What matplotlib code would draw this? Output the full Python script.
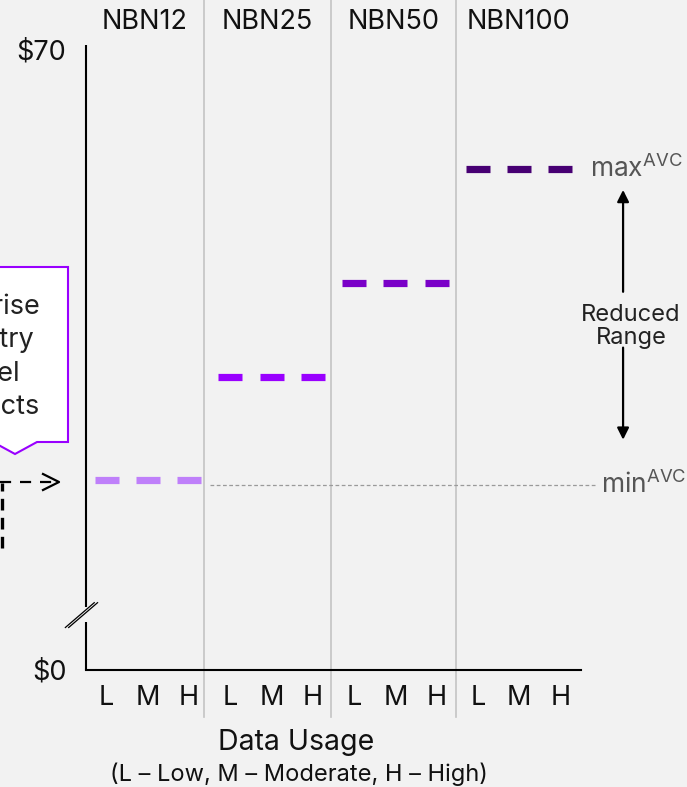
import matplotlib
matplotlib.use("Agg")
import matplotlib.pyplot as plt
from matplotlib.lines import Line2D
from matplotlib.patches import Polygon
import matplotlib.transforms as mtransforms

plt.rcParams['font.family'] = ['Inter', 'DejaVu Sans']
plt.rcParams['mathtext.fontset'] = 'custom'
plt.rcParams['mathtext.rm'] = 'Inter'

# Average variable cost per plan ($/month), flat across usage levels
plans = ['NBN12', 'NBN25', 'NBN50', 'NBN100']
usage = ['L', 'M', 'H']
avc = [21.4, 33.1, 43.7, 56.6]
min_avc = 20.9
max_avc = 56.6
plan_colors = ['#bf80fa', '#9900ff', '#7a00c8', '#470073']
# where each plan column starts/ends on the x axis
col_edges = [0.0, 2.86, 5.94, 8.97, 12.0]

BG = '#f2f2f2'
W, H = 687, 787
FS = 19.5

fig = plt.figure(figsize=(W / 100, H / 100), dpi=100, facecolor=BG)
ax = fig.add_axes([86 / W, (H - 670) / H, 495 / W, 620 / H])
ax.set_facecolor(BG)
ax.patch.set_alpha(0)
ax.set_xlim(0, 12)
ax.set_ylim(0, 70)


def px(x, y):
    """figure pixel (top-left origin) -> figure fraction"""
    return x / W, 1 - y / H


# dashes, one per usage level
xs_all = []
for i, (plan, val, col) in enumerate(zip(plans, avc, plan_colors)):
    for j, u in enumerate(usage):
        xc = i * 3 + j + 0.5
        xs_all.append(xc)
        ax.plot([xc - 0.29, xc + 0.29], [val, val], color=col, lw=5.2,
                solid_capstyle='butt', zorder=3)

# min AVC reference line
ax.plot([3.0, 12.39], [min_avc, min_avc], color='#9a9a9a', lw=0.9,
        ls=(0, (3, 2)), clip_on=False, zorder=2)

# column separators and headers
blend = mtransforms.blended_transform_factory(ax.transData, ax.transAxes)
for e in col_edges[1:-1]:
    ax.plot([e, e], [-0.0758, 1.0806], transform=blend, color='#c4c4c4',
            lw=1.2, clip_on=False, zorder=1)
for i, plan in enumerate(plans):
    xc = (col_edges[i] + col_edges[i + 1]) / 2
    ax.text(xc, 1.045, plan, transform=blend, ha='center', va='center',
            fontsize=FS, color='#111111')

# axes
for s in ['top', 'right', 'left']:
    ax.spines[s].set_visible(False)
ax.spines['bottom'].set_linewidth(1.5)
ax.set_xticks(xs_all)
ax.set_xticklabels(usage * len(plans), fontsize=FS, color='#111111')
ax.set_yticks([0, 70])
ax.set_yticklabels(['$0', '$70'], fontsize=FS, color='#111111')
ax.tick_params(axis='x', length=0, pad=11)
ax.tick_params(axis='y', length=0, pad=14)

# y axis with break
ax.plot([0, 0], [7.1, 70.6], color='black', lw=1.5, clip_on=False,
        solid_capstyle='butt')
ax.plot([0, 0], [0, 5.4], color='black', lw=1.5, clip_on=False,
        solid_capstyle='butt')
for off in (-0.04, 0.04):
    ax.plot([-0.46 + off, 0.24 + off], [5.1 - 0.3, 7.9 - 0.3], color='black',
            lw=0.9, clip_on=False)

# max / min labels
ax.text(12.22, max_avc, r'max$^{\rm AVC}$', ha='left', va='center',
        fontsize=19, color='#555555')
ax.text(12.49, min_avc, r'min$^{\rm AVC}$', ha='left', va='center',
        fontsize=19, color='#555555')

# reduced range arrows
arrow_kw = dict(arrowstyle='-|>,head_length=0.7,head_width=0.35', color='black',
                lw=1.6, shrinkA=0, shrinkB=0)
ax.annotate('', xy=(13.02, 54.2), xytext=(13.02, 42.7),
            arrowprops=arrow_kw, annotation_clip=False)
ax.annotate('', xy=(13.02, 26.0), xytext=(13.02, 36.4),
            arrowprops=arrow_kw, annotation_clip=False)
ax.text(13.21, 38.8, 'Reduced\nRange', ha='center', va='center',
        fontsize=17, color='#222222', linespacing=1.05)

# x axis title
fig.text(*px(296, 742), 'Data Usage', ha='center', va='center',
         fontsize=20.5, color='#111111')
fig.text(*px(299, 774), '(L \u2013 Low, M \u2013 Moderate, H \u2013 High)',
         ha='center', va='center', fontsize=17, color='#111111')

# callout box on the left edge
box = [px(-12, 267), px(68, 267), px(68, 442), px(37, 442), px(15, 454),
       px(-7, 442), px(-12, 442)]
fig.add_artist(Polygon(box, closed=True, transform=fig.transFigure,
                       facecolor='white', edgecolor='#9900ff', lw=1.5))
callout_lines = ['Enterprise', 'Entry', 'Level', 'Products']
callout_right = [40, 34, 20, 40]
callout_y = [307, 340, 374, 407]
for t, xr, yy in zip(callout_lines, callout_right, callout_y):
    fig.text(*px(xr, yy), t, ha='right', va='center', fontsize=FS,
             color='#222222')

# dashed elbow connector into the min line
fig.add_artist(Line2D([px(1.5, 548)[0], px(1.5, 483)[0]],
                      [px(1.5, 548)[1], px(1.5, 483)[1]],
                      transform=fig.transFigure, color='black', lw=2.4,
                      ls=(0, (3.5, 2.2))))
fig.add_artist(Line2D([px(0, 482)[0], px(58, 482)[0]],
                      [px(0, 482)[1], px(58, 482)[1]],
                      transform=fig.transFigure, color='black', lw=1.6,
                      ls=(0, (5, 4))))
fig.add_artist(Line2D([px(43, 474)[0], px(59, 482)[0], px(43, 490)[0]],
                      [px(43, 474)[1], px(59, 482)[1], px(43, 490)[1]],
                      transform=fig.transFigure, color='black', lw=1.6))

fig.savefig('out.png', dpi=100, facecolor=BG)
